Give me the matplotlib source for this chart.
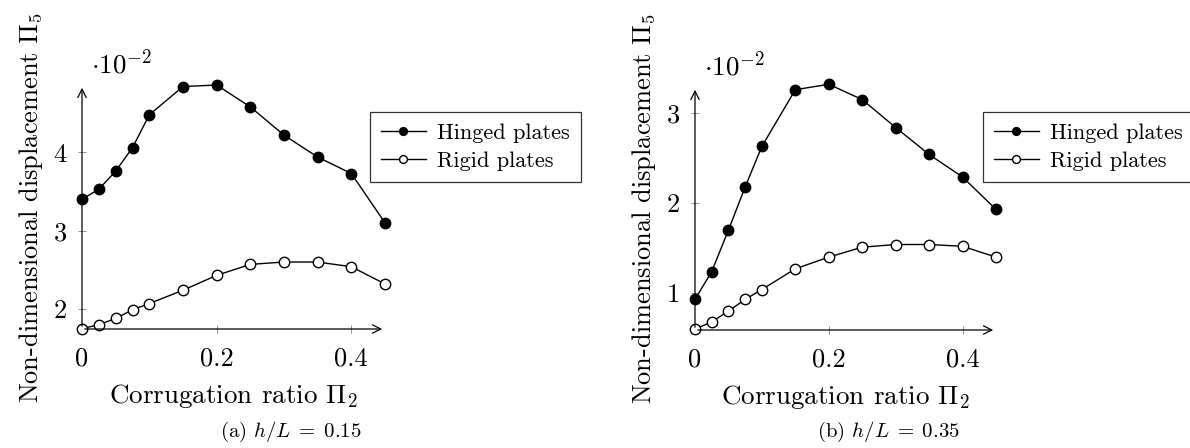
import matplotlib
matplotlib.use('Agg')
import matplotlib.pyplot as plt

plt.rcParams['font.family'] = 'serif'
plt.rcParams['font.serif'] = ['cmr10']
plt.rcParams['mathtext.fontset'] = 'cm'
plt.rcParams['axes.unicode_minus'] = False
plt.rcParams['font.size'] = 15

ratio = [0, 0.025, 0.05, 0.075, 0.1, 0.15, 0.2, 0.25, 0.3, 0.35, 0.4, 0.45]

# h/L = 0.15
hinged_a = [3.40, 3.53, 3.76, 4.06, 4.48, 4.84, 4.86, 4.58, 4.22, 3.94, 3.73, 3.10]
rigid_a = [1.75, 1.80, 1.88, 1.99, 2.07, 2.24, 2.43, 2.57, 2.60, 2.60, 2.54, 2.32]
# h/L = 0.35
hinged_b = [0.93, 1.24, 1.70, 2.18, 2.63, 3.26, 3.32, 3.15, 2.84, 2.54, 2.29, 1.93]
rigid_b = [0.60, 0.68, 0.80, 0.93, 1.04, 1.27, 1.40, 1.51, 1.54, 1.54, 1.52, 1.40]

xticks = [0, 0.2, 0.4]
xticklabels = ['0', '0.2', '0.4']
yticks_a = [2, 3, 4]
yticks_b = [1, 2, 3]

fig = plt.figure(figsize=(11.9, 4.48), dpi=100)


def panel(rect, hinged, rigid, ylim, yticks, caption, legpos, caplab_x):
    ax = fig.add_axes(rect)
    ax.plot(ratio, hinged, '-o', color='black', lw=1, ms=7.5, mfc='black',
            mec='black', mew=1, label='Hinged plates', clip_on=False, zorder=3)
    ax.plot(ratio, rigid, '-o', color='black', lw=1, ms=7.5, mfc='white',
            mec='black', mew=1, label='Rigid plates', clip_on=False, zorder=3)
    ax.set_xlim(0, 0.45)
    ax.set_ylim(*ylim)
    ax.set_xticks(xticks)
    ax.set_xticklabels(xticklabels)
    ax.set_yticks(yticks)
    ax.set_yticklabels([str(t) for t in yticks])
    for s in ['top', 'right', 'left', 'bottom']:
        ax.spines[s].set_visible(False)
    ax.annotate('', xy=(1.0, 0), xytext=(0, 0), xycoords='axes fraction',
                arrowprops=dict(arrowstyle='->', lw=0.9, color='black'))
    ax.annotate('', xy=(0, 1.0), xytext=(0, 0), xycoords='axes fraction',
                arrowprops=dict(arrowstyle='->', lw=0.9, color='black'))
    ax.tick_params(direction='inout', length=6, width=0.5, color='#666666',
                   labelsize=19, pad=8)
    ax.tick_params(axis='x', pad=10)
    ax.set_xlabel(r'Corrugation ratio $\Pi_2$', fontsize=19.5, labelpad=8)
    ax.set_ylabel(r'Non-dimensional displacement $\Pi_5$', fontsize=19,
                  labelpad=6)
    ax.text(0.03, 1.03, r'$\cdot 10^{-2}$', transform=ax.transAxes,
            fontsize=19.5, ha='left', va='bottom')
    leg = ax.legend(loc='upper left', bbox_to_anchor=legpos,
                    bbox_transform=fig.transFigure, frameon=True,
                    fancybox=False, edgecolor='black', markerscale=0.75,
                    handlelength=2.0, borderpad=0.5, labelspacing=0.4,
                    handletextpad=0.5, borderaxespad=0, fontsize=16)
    leg.get_frame().set_linewidth(0.9)
    fig.text(caplab_x, 0.035, caption, ha='center', va='center', fontsize=15)
    return ax


panel([82 / 1190, 1 - 329 / 448, 303 / 1190, 244 / 448], hinged_a, rigid_a,
      (1.745, 4.86), yticks_a, r'(a) $h/L\;=\;0.15$',
      (370 / 1190, 1 - 112 / 448), 291 / 1190)
panel([695 / 1190, 1 - 330 / 448, 301 / 1190, 243 / 448], hinged_b, rigid_b,
      (0.59, 3.29), yticks_b, r'(b) $h/L\;=\;0.35$',
      (983 / 1190, 1 - 112 / 448), 888 / 1190)

fig.savefig('out.png', dpi=100)
